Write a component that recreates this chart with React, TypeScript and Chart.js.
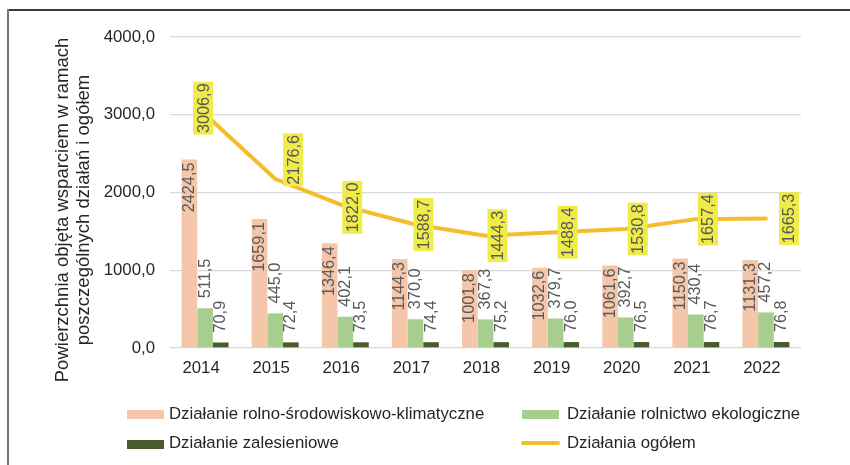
import React, { useEffect, useRef } from 'react';
import { Chart, registerables } from 'chart.js';

Chart.register(...registerables);

const CATEGORIES = ['2014', '2015', '2016', '2017', '2018', '2019', '2020', '2021', '2022'];
const AGRI_ENV = [2424.5, 1659.1, 1346.4, 1144.3, 1001.8, 1032.6, 1061.6, 1150.3, 1131.3];
const ORGANIC = [511.5, 445.0, 402.1, 370.0, 367.3, 379.7, 392.7, 430.4, 457.2];
const AFFOREST = [70.9, 72.4, 73.5, 74.4, 75.2, 76.0, 76.5, 76.7, 76.8];
const TOTAL = [3006.9, 2176.6, 1822.0, 1588.7, 1444.3, 1488.4, 1530.8, 1657.4, 1665.3];
const Y_TICKS = [0, 1000, 2000, 3000, 4000];

const SERIES_NAMES = [
  'Działanie rolno-środowiskowo-klimatyczne',
  'Działanie rolnictwo ekologiczne',
  'Działanie zalesieniowe',
  'Działania ogółem',
];
const Y_TITLE = ['Powierzchnia objęta wsparciem w ramach', 'poszczególnych działań i ogółem'];

const C_PEACH = '#F4C7AA';
const C_GREEN = '#A8CE8F';
const C_DARK = '#4A5A2F';
const C_LINE = '#F5BC2E';
const C_LABELBG = '#EFEB48';
const C_TEXT = '#262626';
const C_LABEL = '#595959';
const FONT = '"Liberation Sans", Arial, sans-serif';
const AXIS_SIZE = 16.8;
const LABEL_SIZE = 16.3;
const TITLE_SIZE = 18.5;

// label nudges (relative to the line points) imitating manual placement
const NUDGE_X = [-2, 18, 7, 8, 12, 12, 12, 12, 23];
const NUDGE_Y = [-6, -19, 1, 0, 0, 0, 0, 0, 0];

const fmt = (v: number) => v.toFixed(1).replace('.', ',');

export default function App() {
  const ref = useRef<HTMLCanvasElement>(null);

  useEffect(() => {
    const labelPlugin = {
      id: 'valueLabels',
      afterDatasetsDraw(chart: any) {
        const ctx = chart.ctx as CanvasRenderingContext2D;
        ctx.save();
        ctx.font = `${LABEL_SIZE}px ${FONT}`;
        ctx.textBaseline = 'middle';
        chart.data.datasets.forEach((ds: any, di: number) => {
          if (ds.type === 'line') return;
          const meta = chart.getDatasetMeta(di);
          const inside = di === 1;
          meta.data.forEach((el: any, i: number) => {
            const t = fmt(ds.data[i]);
            ctx.save();
            ctx.translate(el.x, el.y);
            ctx.rotate(-Math.PI / 2);
            ctx.fillStyle = C_LABEL;
            if (inside) {
              ctx.textAlign = 'right';
              ctx.fillText(t, -3, 0);
            } else {
              ctx.textAlign = 'left';
              ctx.fillText(t, 10, 0);
            }
            ctx.restore();
          });
        });
        chart.data.datasets.forEach((ds: any, di: number) => {
          if (ds.type !== 'line') return;
          const meta = chart.getDatasetMeta(di);
          meta.data.forEach((el: any, i: number) => {
            const t = fmt(ds.data[i]);
            const w = ctx.measureText(t).width;
            ctx.save();
            ctx.translate(el.x + NUDGE_X[i], el.y + NUDGE_Y[i]);
            ctx.rotate(-Math.PI / 2);
            ctx.fillStyle = C_LABELBG;
            ctx.fillRect(-w / 2 - 1.5, -10, w + 3, 20);
            ctx.fillStyle = C_LABEL;
            ctx.textAlign = 'center';
            ctx.fillText(t, 0, 1);
            ctx.restore();
          });
        });
        ctx.restore();
      },
      afterDraw(chart: any) {
        const ctx = chart.ctx as CanvasRenderingContext2D;
        ctx.save();
        ctx.font = `${TITLE_SIZE}px ${FONT}`;
        ctx.fillStyle = C_TEXT;
        ctx.textAlign = 'center';
        ctx.textBaseline = 'middle';
        const xs = [63, 84];
        Y_TITLE.forEach((line, k) => {
          ctx.save();
          ctx.translate(xs[k], 210);
          ctx.rotate(-Math.PI / 2);
          ctx.fillText(line, 0, 0);
          ctx.restore();
        });
        ctx.restore();
      },
    };

    const chart = new Chart(ref.current!, {
      type: 'bar',
      data: {
        labels: CATEGORIES,
        datasets: [
          {
            type: 'line',
            label: SERIES_NAMES[3],
            data: TOTAL,
            borderColor: C_LINE,
            backgroundColor: C_LINE,
            borderWidth: 4,
            pointRadius: 0,
            tension: 0,
            borderCapStyle: 'round',
            borderJoinStyle: 'round',
            order: 0,
          } as any,
          {
            type: 'bar',
            label: SERIES_NAMES[0],
            data: AGRI_ENV,
            backgroundColor: C_PEACH,
            order: 1,
          },
          {
            type: 'bar',
            label: SERIES_NAMES[1],
            data: ORGANIC,
            backgroundColor: C_GREEN,
            order: 1,
          },
          {
            type: 'bar',
            label: SERIES_NAMES[2],
            data: AFFOREST,
            backgroundColor: C_DARK,
            order: 1,
          },
        ],
      },
      options: {
        responsive: false,
        animation: false,
        events: [],
        layout: { padding: { top: 37, right: 49, left: 0, bottom: 77 } },
        datasets: { bar: { categoryPercentage: 0.67, barPercentage: 1.0 } } as any,
        plugins: {
          legend: { display: false },
          tooltip: { enabled: false },
          title: { display: false },
        },
        scales: {
          x: {
            grid: { display: false, drawTicks: false },
            border: { display: false },
            ticks: {
              color: C_TEXT,
              font: { family: FONT, size: AXIS_SIZE },
              padding: 10,
              labelOffset: -4,
              maxRotation: 0,
            },
            afterFit: (s: any) => {
              s.height = 40;
            },
          },
          y: {
            min: 0,
            max: 4000,
            afterBuildTicks: (s: any) => {
              s.ticks = Y_TICKS.map((v) => ({ value: v }));
            },
            grid: { color: '#D9D9D9', lineWidth: 1.3, drawTicks: false },
            border: { display: false },
            ticks: {
              color: C_TEXT,
              font: { family: FONT, size: AXIS_SIZE },
              padding: 15,
              callback: (v: any) => fmt(Number(v)),
            },
            afterFit: (s: any) => {
              s.width = 170;
            },
          },
        },
      },
      plugins: [labelPlugin],
    });
    return () => chart.destroy();
  }, []);

  const textStyle: React.CSSProperties = {
    position: 'absolute',
    font: `${AXIS_SIZE}px ${FONT}`,
    lineHeight: '20px',
    color: C_TEXT,
    whiteSpace: 'nowrap',
  };
  const sw = (left: number, top: number, color: string): React.CSSProperties => ({
    position: 'absolute',
    left,
    top,
    width: 37,
    height: 9,
    background: color,
  });

  return (
    <div
      style={{
        position: 'fixed',
        left: 0,
        top: 0,
        width: 850,
        height: 465,
        background: '#fff',
        overflow: 'hidden',
      }}
    >
      <canvas ref={ref} width={850} height={465} style={{ position: 'absolute', left: 0, top: 0, width: 850, height: 465 }} />
      <div style={{ position: 'absolute', left: 7, top: 9, right: 0, height: 2, background: '#3a3a3a' }} />
      <div style={{ position: 'absolute', left: 7, top: 9, width: 2, bottom: 0, background: '#777' }} />
      <div style={sw(127, 410, C_PEACH)} />
      <div style={{ ...textStyle, left: 169, top: 404 }}>{SERIES_NAMES[0]}</div>
      <div style={sw(522, 410, C_GREEN)} />
      <div style={{ ...textStyle, left: 567, top: 404 }}>{SERIES_NAMES[1]}</div>
      <div style={sw(127, 440, C_DARK)} />
      <div style={{ ...textStyle, left: 169, top: 433 }}>{SERIES_NAMES[2]}</div>
      <div
        style={{
          position: 'absolute',
          left: 521,
          top: 441,
          width: 39,
          height: 4,
          borderRadius: 2,
          background: C_LINE,
        }}
      />
      <div style={{ ...textStyle, left: 567, top: 433 }}>{SERIES_NAMES[3]}</div>
    </div>
  );
}
